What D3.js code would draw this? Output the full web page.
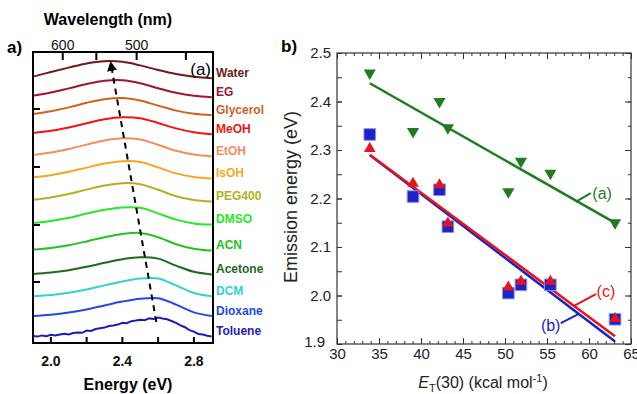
<!DOCTYPE html>
<html>
<head>
<meta charset="utf-8">
<script src="https://cdn.jsdelivr.net/npm/d3@7"></script>
<style>
  body { margin: 0; background: #fff; }
  svg { display: block; font-family: "Liberation Sans", Arial, sans-serif; }
</style>
</head>
<body>
<svg id="fig" width="637" height="394"></svg>
<script>
// ---- panel a: offset emission spectra ----
const solvents = ["Water", "EG", "Glycerol", "MeOH", "EtOH", "IsOH", "PEG400",
                  "DMSO", "ACN", "Acetone", "DCM", "Dioxane", "Toluene"];
const solventColors = ["#6e1a1c", "#a3142c", "#d0611e", "#f01414", "#f98c5c", "#f7a620", "#b4b022",
                       "#28e628", "#22c322", "#1e6a1e", "#33d2d2", "#2446ec", "#1c1cbc"];
// vertical offset of each trace (arb. units)
const baselines = [13.2, 12.25, 11.35, 10.4, 9.3, 8.2, 7.05, 5.9, 4.6, 3.4, 2.3, 1.3, 0.3];

const specEnergy = [1.9, 2.0, 2.1, 2.2, 2.3, 2.4, 2.5, 2.6, 2.7, 2.8, 2.9];
const specIntensity = [
  [0.12, 0.35, 0.57, 0.78, 0.89, 0.86, 0.68, 0.45, 0.25, 0.11, 0.04], // Water
  [0.11, 0.27, 0.48, 0.70, 0.86, 0.89, 0.74, 0.49, 0.26, 0.11, 0.04], // EG
  [0.10, 0.24, 0.43, 0.66, 0.84, 0.90, 0.77, 0.52, 0.27, 0.11, 0.04], // Glycerol
  [0.10, 0.21, 0.38, 0.59, 0.79, 0.89, 0.84, 0.60, 0.33, 0.14, 0.04], // MeOH
  [0.10, 0.22, 0.40, 0.62, 0.83, 0.94, 0.88, 0.61, 0.31, 0.12, 0.03], // EtOH
  [0.09, 0.19, 0.36, 0.57, 0.77, 0.89, 0.85, 0.58, 0.28, 0.10, 0.02], // IsOH
  [0.11, 0.23, 0.40, 0.62, 0.82, 0.94, 0.89, 0.61, 0.29, 0.10, 0.02], // PEG400
  [0.10, 0.20, 0.36, 0.57, 0.76, 0.88, 0.86, 0.58, 0.27, 0.08, 0.02], // DMSO
  [0.07, 0.15, 0.29, 0.48, 0.69, 0.85, 0.90, 0.69, 0.34, 0.11, 0.02], // ACN
  [0.05, 0.12, 0.24, 0.41, 0.61, 0.79, 0.89, 0.82, 0.47, 0.16, 0.03], // Acetone
  [0.04, 0.10, 0.21, 0.37, 0.58, 0.78, 0.92, 0.93, 0.58, 0.20, 0.04], // DCM
  [0.05, 0.11, 0.22, 0.38, 0.58, 0.77, 0.91, 0.94, 0.62, 0.23, 0.05]  // Dioxane
];
// toluene trace is noisy, read at a finer step
const tolueneEnergy = [1.9, 1.925, 1.95, 1.975, 2.0, 2.025, 2.05, 2.075, 2.1, 2.125, 2.15, 2.175,
  2.2, 2.225, 2.25, 2.275, 2.3, 2.325, 2.35, 2.375, 2.4, 2.425, 2.45, 2.475, 2.5, 2.525, 2.55,
  2.575, 2.6, 2.625, 2.65, 2.675, 2.7, 2.725, 2.75, 2.775, 2.8, 2.825, 2.85, 2.875, 2.9];
const tolueneIntensity = [0.05, 0.02, 0.08, 0.04, 0.11, 0.07, 0.12, 0.16, 0.13, 0.2, 0.23, 0.21,
  0.32, 0.3, 0.4, 0.44, 0.47, 0.55, 0.58, 0.62, 0.71, 0.69, 0.79, 0.82, 0.86, 0.84, 0.93, 0.9,
  0.97, 0.92, 0.89, 0.8, 0.71, 0.58, 0.49, 0.34, 0.27, 0.15, 0.12, 0.06, 0.03];

const energyTicks = [2.0, 2.4, 2.8];
const energyMinorTicks = [2.0, 2.2, 2.4, 2.6, 2.8];
const wavelengthTicks = [600, 500];
const wavelengthMinorTicks = [600, 550, 500, 450];
const intensityTicks = [3.05, 5.9, 8.8, 11.7];
// dashed arrow following the peak shift (energy, offset units)
const peakArrow = [[2.59, 1.05], [2.335, 14.0]];

// ---- panel b: emission energy vs ET(30) ----
const et30 = [33.9, 39.05, 42.2, 43.2, 50.4, 51.9, 55.4, 63.1];
const emissionA = [2.459, 2.338, 2.400, 2.346, 2.214, 2.277, 2.252, 2.150];
const emissionB = [2.332, 2.204, 2.218, 2.142, 2.005, 2.022, 2.022, 1.951];
const emissionC = [2.303, 2.231, 2.228, 2.149, 2.017, 2.029, 2.029, 1.952];
const et30Ticks = [30, 35, 40, 45, 50, 55, 60, 65];
const emissionTicks = [1.9, 2.0, 2.1, 2.2, 2.3, 2.4, 2.5];

const svg = d3.select("#fig");

// ================= panel a =================
const pa = { left: 33, right: 213, top: 52, bottom: 343 };
const xE = d3.scaleLinear().domain([1.9, 2.907]).range([pa.left, pa.right]);
const yA = d3.scaleLinear().domain([0, 14.55]).range([pa.bottom, pa.top]);
const gA = svg.append("g");

const traces = solvents.map((name, i) => {
  const xs = i < 12 ? specEnergy : tolueneEnergy;
  const ys = i < 12 ? specIntensity[i] : tolueneIntensity;
  return { name, color: solventColors[i], base: baselines[i],
           pts: xs.map((e, j) => [e, baselines[i] + ys[j]]) };
});

const smoothLine = d3.line().x(d => xE(d[0])).y(d => yA(d[1])).curve(d3.curveCatmullRom.alpha(0.5));
const roughLine = d3.line().x(d => xE(d[0])).y(d => yA(d[1]));

gA.selectAll("path.trace")
  .data(traces)
  .join("path")
  .attr("class", "trace")
  .attr("fill", "none")
  .attr("stroke", d => d.color)
  .attr("stroke-width", 2)
  .attr("d", (d, i) => i < 12 ? smoothLine(d.pts) : roughLine(d.pts));

gA.selectAll("text.solvent")
  .data(traces)
  .join("text")
  .attr("class", "solvent")
  .attr("x", pa.right + 3)
  .attr("y", d => yA(d.base) - 2)
  .attr("font-size", 12)
  .attr("font-weight", "bold")
  .attr("fill", d => d.color)
  .text(d => d.name);

// dashed arrow
svg.append("defs").append("marker")
  .attr("id", "head")
  .attr("viewBox", "0 0 10 10")
  .attr("refX", 8).attr("refY", 5)
  .attr("markerWidth", 5).attr("markerHeight", 5)
  .attr("orient", "auto")
  .append("path").attr("d", "M0,0L10,5L0,10Z").attr("fill", "#000");

gA.append("line")
  .attr("x1", xE(peakArrow[0][0])).attr("y1", yA(peakArrow[0][1]))
  .attr("x2", xE(peakArrow[1][0])).attr("y2", yA(peakArrow[1][1]))
  .attr("stroke", "#000")
  .attr("stroke-width", 2)
  .attr("stroke-dasharray", "6,5")
  .attr("marker-end", "url(#head)");

// frame and ticks
gA.append("rect")
  .attr("x", pa.left).attr("y", pa.top)
  .attr("width", pa.right - pa.left).attr("height", pa.bottom - pa.top)
  .attr("fill", "none").attr("stroke", "#000").attr("stroke-width", 2);

gA.selectAll("line.etick")
  .data(energyMinorTicks)
  .join("line")
  .attr("x1", d => xE(d)).attr("x2", d => xE(d))
  .attr("y1", pa.bottom).attr("y2", pa.bottom - 6)
  .attr("stroke", "#000").attr("stroke-width", 2);

gA.selectAll("text.elabel")
  .data(energyTicks)
  .join("text")
  .attr("x", d => xE(d)).attr("y", 366)
  .attr("text-anchor", "middle")
  .attr("font-size", 14).attr("font-weight", "bold")
  .attr("fill", "#111")
  .text(d => d.toFixed(1));

const wlToX = nm => xE(1239.84 / nm);
gA.selectAll("line.wtick")
  .data(wavelengthMinorTicks)
  .join("line")
  .attr("x1", wlToX).attr("x2", wlToX)
  .attr("y1", pa.top).attr("y2", pa.top + 8)
  .attr("stroke", "#000").attr("stroke-width", 2);

gA.selectAll("text.wlabel")
  .data(wavelengthTicks)
  .join("text")
  .attr("x", wlToX).attr("y", 50)
  .attr("text-anchor", "middle")
  .attr("font-size", 14)
  .attr("fill", "#111")
  .text(d => d);

gA.selectAll("line.itick")
  .data(intensityTicks)
  .join("line")
  .attr("x1", pa.left).attr("x2", pa.left + 7)
  .attr("y1", d => yA(d)).attr("y2", d => yA(d))
  .attr("stroke", "#000").attr("stroke-width", 2);

gA.append("text").attr("x", 108).attr("y", 25).attr("text-anchor", "middle")
  .attr("font-size", 16).attr("font-weight", "bold").text("Wavelength (nm)");
gA.append("text").attr("x", 128).attr("y", 390).attr("text-anchor", "middle")
  .attr("font-size", 16).attr("font-weight", "bold").text("Energy (eV)");
gA.append("text").attr("x", 211).attr("y", 75).attr("text-anchor", "end")
  .attr("font-size", 17).text("(a)");
gA.append("text").attr("x", 7).attr("y", 53)
  .attr("font-size", 17).attr("font-weight", "bold").text("a)");

// ================= panel b =================
const pb = { left: 337, right: 631, top: 53, bottom: 344 };
const xT = d3.scaleLinear().domain([30, 65]).range([pb.left, pb.right]);
const yT = d3.scaleLinear().domain([1.9, 2.5]).range([pb.bottom, pb.top]);
const gB = svg.append("g");

const fit = ys => {
  const mx = d3.mean(et30), my = d3.mean(ys);
  const slope = d3.sum(et30, (x, i) => (x - mx) * (ys[i] - my)) / d3.sum(et30, x => (x - mx) ** 2);
  const x0 = d3.min(et30), x1 = d3.max(et30);
  return [[x0, my + slope * (x0 - mx)], [x1, my + slope * (x1 - mx)]];
};
const fitLine = d3.line().x(d => xT(d[0])).y(d => yT(d[1]));

const seriesB = [
  { ys: emissionB, color: "#1b22c8" },
  { ys: emissionC, color: "#e8141c" },
  { ys: emissionA, color: "#1e7d1e" }
];
gB.selectAll("path.fit")
  .data(seriesB)
  .join("path")
  .attr("class", "fit")
  .attr("fill", "none")
  .attr("stroke", d => d.color)
  .attr("stroke-width", 2.5)
  .attr("d", d => fitLine(fit(d.ys)));

// markers
gB.selectAll("path.sq")
  .data(emissionB)
  .join("path")
  .attr("class", "sq")
  .attr("transform", (d, i) => `translate(${xT(et30[i])},${yT(d)})`)
  .attr("d", d3.symbol(d3.symbolSquare, 135))
  .attr("fill", "#1b22c8").attr("stroke", "#8a94ea").attr("stroke-width", 1);

gB.selectAll("path.up")
  .data(emissionC)
  .join("path")
  .attr("class", "up")
  .attr("transform", (d, i) => `translate(${xT(et30[i])},${yT(d)})`)
  .attr("d", d3.symbol(d3.symbolTriangle, 58))
  .attr("fill", "#e8141c");

gB.selectAll("path.down")
  .data(emissionA)
  .join("path")
  .attr("class", "down")
  .attr("transform", (d, i) => `translate(${xT(et30[i])},${yT(d)}) rotate(180)`)
  .attr("d", d3.symbol(d3.symbolTriangle, 64))
  .attr("fill", "#1e7d1e");

// leader lines and labels
const notes = [
  { from: [58.43, 2.193], to: [60.2, 2.211], label: "(a)", at: [60.4, 2.199], anchor: "start", color: "#1e7d1e" },
  { from: [58.16, 1.978], to: [60.82, 2.003], label: "(c)", at: [60.9, 1.996], anchor: "start", color: "#e8141c" },
  { from: [58.8, 1.962], to: [56.64, 1.943], label: "(b)", at: [56.6, 1.927], anchor: "end", color: "#1b22c8" }
];
gB.selectAll("line.note")
  .data(notes)
  .join("line")
  .attr("x1", d => xT(d.from[0])).attr("y1", d => yT(d.from[1]))
  .attr("x2", d => xT(d.to[0])).attr("y2", d => yT(d.to[1]))
  .attr("stroke", d => d.color).attr("stroke-width", 2);
gB.selectAll("text.note")
  .data(notes)
  .join("text")
  .attr("x", d => xT(d.at[0])).attr("y", d => yT(d.at[1]))
  .attr("text-anchor", d => d.anchor)
  .attr("font-size", 16)
  .attr("fill", d => d.color)
  .text(d => d.label);

// frame
gB.append("rect")
  .attr("x", pb.left).attr("y", pb.top)
  .attr("width", pb.right - pb.left).attr("height", pb.bottom - pb.top)
  .attr("fill", "none").attr("stroke", "#333").attr("stroke-width", 1.2);

// axes: ticks point inward on all four sides
const styleAxis = g => {
  g.select(".domain").remove();
  g.selectAll(".tick line").attr("stroke", "#333");
  g.selectAll(".tick text").attr("font-size", 15).attr("fill", "#222")
    .attr("font-family", "Liberation Sans, Arial, sans-serif");
};
const minorX = d3.range(30, 66, 1);
const minorY = [1.9, 1.95, 2.0, 2.05, 2.1, 2.15, 2.2, 2.25, 2.3, 2.35, 2.4, 2.45, 2.5];

gB.append("g").attr("transform", `translate(0,${pb.bottom})`)
  .call(d3.axisBottom(xT).tickValues(minorX).tickSize(-3).tickFormat("")).call(styleAxis);
gB.append("g").attr("transform", `translate(0,${pb.bottom})`)
  .call(d3.axisBottom(xT).tickValues(et30Ticks).tickSize(-6).tickPadding(4)).call(styleAxis);
gB.append("g").attr("transform", `translate(0,${pb.top})`)
  .call(d3.axisTop(xT).tickValues(minorX).tickSize(-3).tickFormat("")).call(styleAxis);
gB.append("g").attr("transform", `translate(0,${pb.top})`)
  .call(d3.axisTop(xT).tickValues(et30Ticks).tickSize(-6).tickFormat("")).call(styleAxis);

gB.append("g").attr("transform", `translate(${pb.left},0)`)
  .call(d3.axisLeft(yT).tickValues(minorY).tickSize(-5).tickFormat("")).call(styleAxis);
const yAxisB = gB.append("g").attr("transform", `translate(${pb.left},0)`)
  .call(d3.axisLeft(yT).tickValues(emissionTicks).tickSize(-5).tickPadding(6).tickFormat(d3.format(".1f")))
  .call(styleAxis);
yAxisB.selectAll(".tick text").filter(d => d === 1.9).attr("dx", -6).attr("dy", "0.15em");
gB.append("g").attr("transform", `translate(${pb.right},0)`)
  .call(d3.axisRight(yT).tickValues(minorY).tickSize(-3).tickFormat("")).call(styleAxis);
gB.append("g").attr("transform", `translate(${pb.right},0)`)
  .call(d3.axisRight(yT).tickValues(emissionTicks).tickSize(-6).tickFormat("")).call(styleAxis);

// titles
gB.append("text")
  .attr("transform", "translate(297,197) rotate(-90)")
  .attr("text-anchor", "middle")
  .attr("font-size", 18).attr("fill", "#222")
  .text("Emission energy (eV)");

const xTitle = gB.append("text")
  .attr("x", 483).attr("y", 388)
  .attr("text-anchor", "middle")
  .attr("font-size", 16).attr("fill", "#222");
xTitle.append("tspan").attr("font-style", "italic").text("E");
xTitle.append("tspan").attr("font-size", 11).attr("dy", 4).text("T");
xTitle.append("tspan").attr("dy", -4).text("(30) (kcal mol");
xTitle.append("tspan").attr("font-size", 11).attr("dy", -6).text("-1");
xTitle.append("tspan").attr("dy", 6).text(")");

gB.append("text").attr("x", 281).attr("y", 52)
  .attr("font-size", 17).attr("font-weight", "bold").text("b)");
</script>
</body>
</html>
